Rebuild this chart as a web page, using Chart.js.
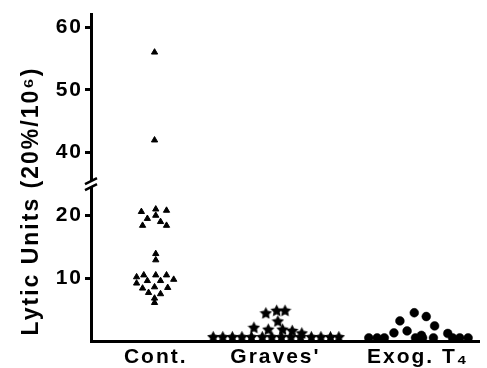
<!DOCTYPE html>
<html><head><meta charset="utf-8">
<script src="https://cdn.jsdelivr.net/npm/chart.js@4"></script>
<style>html,body{margin:0;padding:0;background:#fff;} #wrap{width:487px;height:368px;}</style>
</head><body><div id="wrap"><canvas id="c" width="487" height="368"></canvas></div>
<script>
// ---- data ----
const categories = ['Cont.', "Graves'", 'Exog. T\u2084'];
const categoryCenters = [1, 2, 3.19];
const yTickValues = [10, 20, 40, 50, 60];
const yTitle = 'Lytic Units (20%/10\u2076)';

const contValues = [56, 42, 20.6, 21.0, 20.8, 19.5, 20.0, 19.0, 18.4, 18.4, 13.9, 12.9,
  10.2, 10.5, 10.5, 10.5, 9.8, 9.2, 9.6, 9.6, 8.4, 8.6, 8.5, 7.7, 7.5, 6.8, 6.1];
const contSpread = [-0.01, -0.01, -0.12, 0, 0.09, -0.07, 0, 0.04, -0.11, 0.09, 0, 0,
  -0.16, -0.10, 0, 0.09, 0.15, -0.16, -0.07, 0.04, -0.11, -0.01, 0.10, -0.06, 0.04, -0.01, -0.01];

const gravesValues = [4.5, 4.9, 4.9, 3.2, 2.2, 1.9, 1.9, 1.7, 1.3,
  0.7, 0.7, 0.7, 0.7, 0.7, 0.7, 0.7, 0.7, 0.7, 0.7, 0.7, 0.7, 0.7, 0.7];
const gravesSpread = [-0.08, 0.01, 0.08, 0.02, -0.18, -0.06, 0.06, 0.14, 0.22,
  -0.52, -0.44, -0.36, -0.28, -0.20, -0.11, -0.03, 0.05, 0.13, 0.21, 0.30, 0.38, 0.46, 0.53];

const exogValues = [4.5, 3.9, 3.2, 2.4, 1.6, 1.3, 1.2, 0.9,
  0.5, 0.5, 0.5, 0.5, 0.5, 0.5, 0.5, 0.5, 0.5];
const exogSpread = [-0.03, 0.07, -0.15, 0.14, -0.09, -0.20, 0.25, 0.03,
  -0.41, -0.34, -0.28, -0.02, 0.04, 0.13, 0.29, 0.35, 0.42];

// axis break: values above 30 are drawn 10 units lower (40 sits where 30 would be)
const BREAK_AT = 25;
function toAxis(v) { return v > 30 ? v - 10 : v; }

const FONT = '"Liberation Sans", Arial, Helvetica, sans-serif';

function makeStar(size) {
  const c = document.createElement('canvas');
  c.width = size; c.height = size;
  const g = c.getContext('2d');
  g.fillStyle = '#000';
  g.beginPath();
  const cx = size / 2, cy = size / 2 + 0.7, R = size / 2, r = R * 0.5;
  for (let i = 0; i < 10; i++) {
    const a = -Math.PI / 2 + i * Math.PI / 5;
    const rad = i % 2 ? r : R;
    g.lineTo(cx + rad * Math.cos(a), cy + rad * Math.sin(a));
  }
  g.closePath(); g.fill();
  return c;
}

function pts(values, spread, center) {
  return values.map((v, i) => ({ x: center + spread[i], y: toAxis(v) }));
}

const spacingPlugin = {
  id: 'spacing',
  afterLayout(chart) {
    const t = chart.titleBlock;
    if (t) { t.top += 10; t.bottom += 10; }
  },
  beforeDraw(chart) { chart.ctx.letterSpacing = '2px'; }
};

const breakPlugin = {
  id: 'axisBreak',
  afterDraw(chart) {
    const ctx = chart.ctx, ys = chart.scales.y, x0 = chart.chartArea.left;
    const c = ys.getPixelForValue(BREAK_AT) - 2;
    ctx.save();
    ctx.fillStyle = '#fff';
    ctx.beginPath();
    ctx.moveTo(x0 - 6, c + 2); ctx.lineTo(x0 + 6, c - 4);
    ctx.lineTo(x0 + 6, c + 2); ctx.lineTo(x0 - 6, c + 8);
    ctx.closePath(); ctx.fill();
    ctx.strokeStyle = '#000'; ctx.lineWidth = 2.5;
    ctx.beginPath();
    ctx.moveTo(x0 - 6, c + 2); ctx.lineTo(x0 + 6, c - 4);
    ctx.moveTo(x0 - 6, c + 8); ctx.lineTo(x0 + 6, c + 2);
    ctx.stroke();
    ctx.restore();
  }
};

new Chart(document.getElementById('c'), {
  type: 'scatter',
  data: {
    datasets: [
      { label: categories[0], data: pts(contValues, contSpread, categoryCenters[0]),
        pointStyle: 'triangle', pointRadius: 3.6, pointBorderWidth: 1,
        backgroundColor: '#000', borderColor: '#000' },
      { label: categories[1], data: pts(gravesValues, gravesSpread, categoryCenters[1]),
        pointStyle: makeStar(13), pointRadius: 6.5,
        backgroundColor: '#000', borderColor: '#000' },
      { label: categories[2], data: pts(exogValues, exogSpread, categoryCenters[2]),
        pointStyle: 'circle', pointRadius: 4.4, pointBorderWidth: 0.5,
        backgroundColor: '#000', borderColor: '#000' }
    ]
  },
  options: {
    responsive: false,
    devicePixelRatio: 1,
    animation: false,
    layout: { padding: { top: 14, right: 0, bottom: 0, left: 0 } },
    plugins: {
      legend: { display: false },
      tooltip: { enabled: false },
      title: {
        display: true, position: 'left', fullSize: true, text: yTitle,
        color: '#000', font: { family: FONT, size: 23, weight: 'bold' },
        padding: { top: 18, bottom: 0 }
      }
    },
    scales: {
      x: {
        type: 'linear', min: 0.459, max: 3.705,
        afterBuildTicks: s => { s.ticks = categoryCenters.map(v => ({ value: v })); },
        afterFit: s => { s.height = 27; },
        ticks: {
          autoSkip: false, maxRotation: 0, padding: 4, color: '#000',
          font: { family: FONT, size: 21, weight: 'bold' },
          callback: (v, i) => categories[i]
        },
        grid: { display: true, drawOnChartArea: false, drawTicks: false },
        border: { display: true, color: '#000', width: 3 }
      },
      y: {
        type: 'linear', min: 0, max: 52,
        afterBuildTicks: s => { s.ticks = yTickValues.map(v => ({ value: toAxis(v) })); },
        afterFit: s => { s.width = 45.4; },
        ticks: {
          autoSkip: false, padding: 2, color: '#000',
          font: { family: FONT, size: 21, weight: 'bold' },
          callback: (v, i) => String(yTickValues[i])
        },
        grid: { display: true, drawOnChartArea: false, drawTicks: true,
                tickLength: 6, tickWidth: 3, tickColor: '#000', lineWidth: 3, color: '#000' },
        border: { display: true, color: '#000', width: 3 }
      }
    }
  },
  plugins: [spacingPlugin, breakPlugin]
});
</script>
</body></html>
